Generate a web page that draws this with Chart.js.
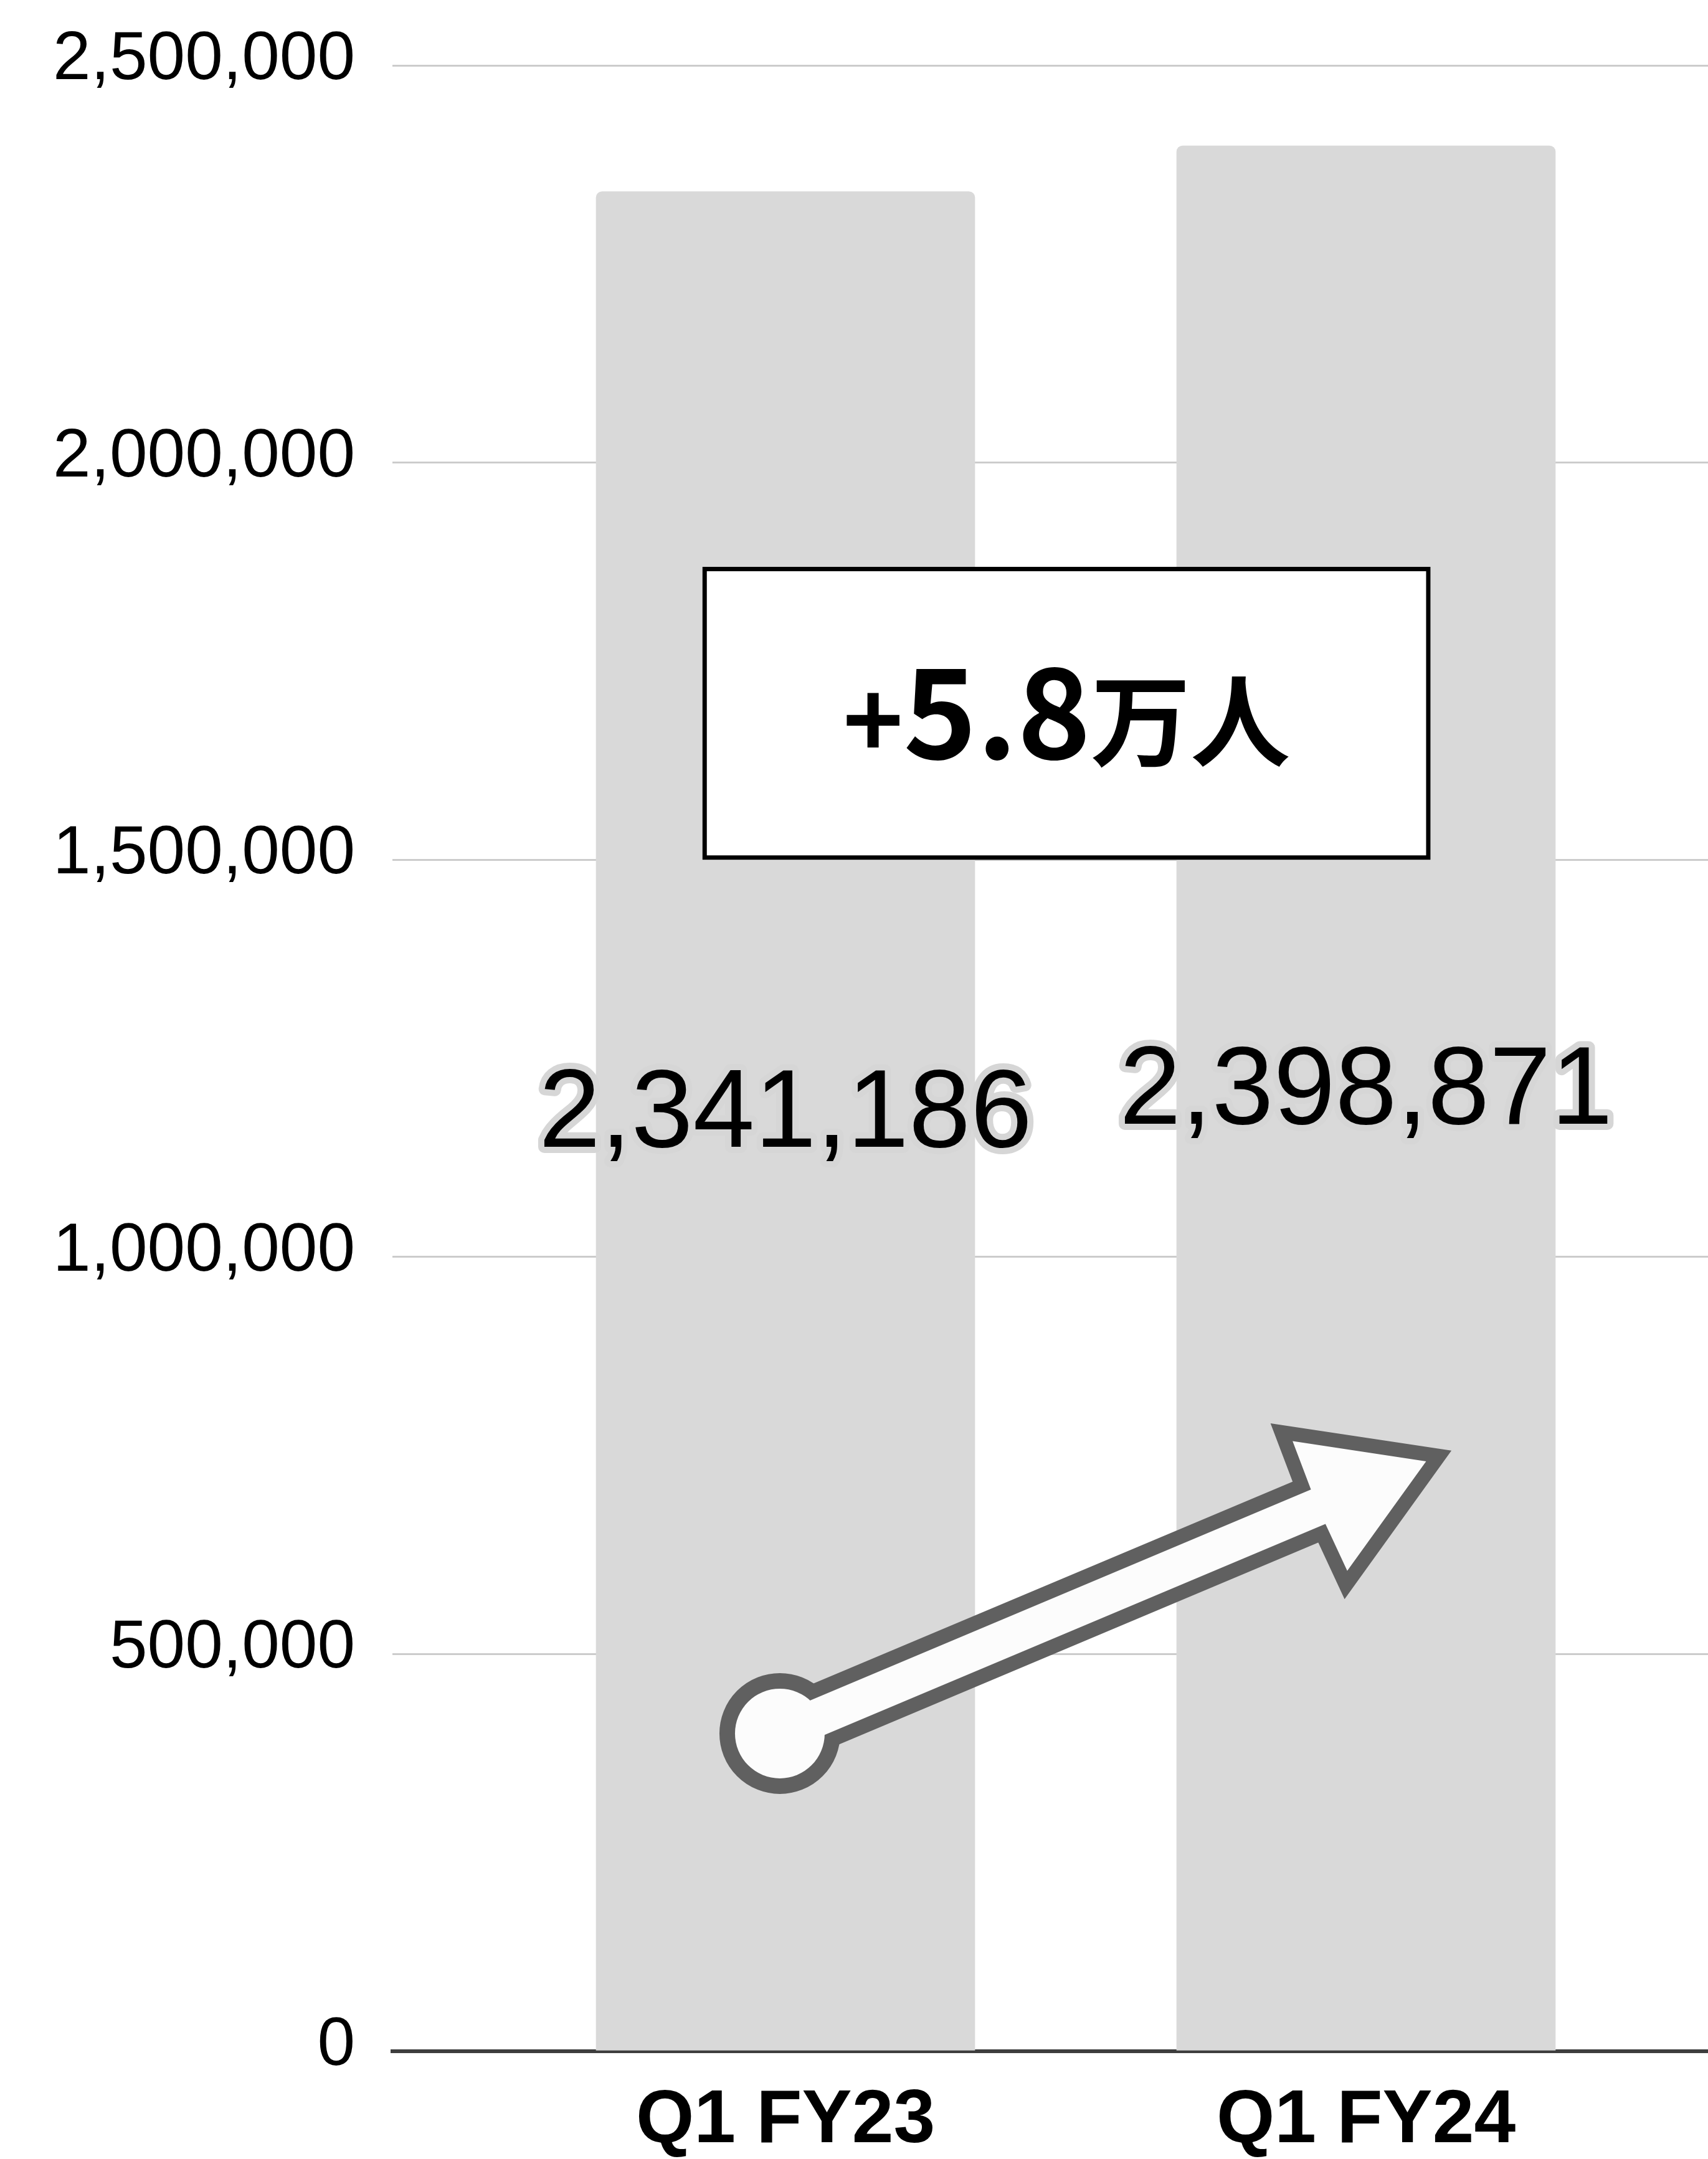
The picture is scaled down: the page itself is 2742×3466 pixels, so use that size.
<!DOCTYPE html>
<html>
<head>
<meta charset="utf-8">
<script src="https://cdn.jsdelivr.net/npm/chart.js@4.4.1/dist/chart.umd.min.js"></script>
<style>
html,body{margin:0;padding:0;background:#ffffff;}
#wrap{position:relative;width:2742px;height:3466px;}
</style>
</head>
<body>
<div id="wrap"><canvas id="c"></canvas></div>
<script>
// ---- data ----
const categories = ["Q1 FY23", "Q1 FY24"];
const users = [2341186, 2398871];
const yTickValues = [0, 500000, 1000000, 1500000, 2000000, 2500000];
const yTickLabels = ["0", "500,000", "1,000,000", "1,500,000", "2,000,000", "2,500,000"];
const changeText = ["+", "5.8", "万人"];

// ---- annotation geometry (in scale units) ----
const BOX = {x0: -0.143, x1: 1.111, y0: 1500000, y1: 1868700};
const ARROW = {from: [-0.0097, 400000], to: [1.149, 756700]};

const annot = {
  id: 'annot',
  afterDraw(chart) {
    const ctx = chart.ctx, xs = chart.scales.x, ys = chart.scales.y;
    const meta = chart.getDatasetMeta(0);

    // value labels in the middle of the bars
    ctx.save();
    ctx.font = '178px "Liberation Sans", Arial, sans-serif';
    ctx.textAlign = 'center';
    ctx.textBaseline = 'middle';
    ctx.lineJoin = 'round';
    meta.data.forEach((bar, i) => {
      const txt = users[i].toLocaleString('en-US');
      const y = ys.getPixelForValue(users[i] / 2) - 8.5;
      ctx.strokeStyle = '#d6d6d6';
      ctx.lineWidth = 20;
      ctx.strokeText(txt, bar.x, y);
      ctx.fillStyle = '#000000';
      ctx.fillText(txt, bar.x, y);
    });
    ctx.restore();

    // box with change text
    ctx.save();
    const bl = xs.getPixelForValue(BOX.x0), br = xs.getPixelForValue(BOX.x1);
    const bt = ys.getPixelForValue(BOX.y1), bb = ys.getPixelForValue(BOX.y0);
    ctx.fillStyle = '#ffffff';
    ctx.fillRect(bl, bt, br - bl, bb - bt);
    ctx.lineWidth = 7;
    ctx.strokeStyle = '#000000';
    ctx.strokeRect(bl + 3.5, bt + 3.5, br - bl - 7, bb - bt - 7);
    const fonts = ['bold 165px "Noto Sans CJK JP", sans-serif',
                   'bold 200px "Noto Sans CJK JP", sans-serif',
                   'bold 160px "Noto Sans CJK JP", sans-serif'];
    let widths = changeText.map((t, i) => { ctx.font = fonts[i]; return ctx.measureText(t).width; });
    const total = widths.reduce((a, b) => a + b, 0);
    let x = (bl + br) / 2 - total / 2;
    const base = (bt + bb) / 2 + 73;
    ctx.fillStyle = '#000000';
    ctx.textAlign = 'left';
    ctx.textBaseline = 'alphabetic';
    changeText.forEach((t, i) => {
      ctx.font = fonts[i];
      ctx.fillText(t, x, base);
      x += widths[i];
    });
    ctx.restore();

    // arrow
    ctx.save();
    const c = {x: xs.getPixelForValue(ARROW.from[0]), y: ys.getPixelForValue(ARROW.from[1])};
    const t = {x: xs.getPixelForValue(ARROW.to[0]), y: ys.getPixelForValue(ARROW.to[1])};
    const L = Math.hypot(t.x - c.x, t.y - c.y);
    const ux = (t.x - c.x) / L, uy = (t.y - c.y) / L;
    const nx = -uy, ny = ux;
    const P = (s, q) => [c.x + ux * s + nx * q, c.y + uy * s + ny * q];
    const pts = [P(0, -30), P(L - 234, -30), P(L - 231, -113), P(L - 46, 0),
                 P(L - 231, 113), P(L - 234, 30), P(0, 30)];
    const R = 72;
    ctx.lineJoin = 'miter';
    ctx.strokeStyle = '#606060';
    ctx.lineWidth = 46;
    ctx.beginPath();
    pts.forEach((p, i) => i ? ctx.lineTo(p[0], p[1]) : ctx.moveTo(p[0], p[1]));
    ctx.closePath();
    ctx.stroke();
    ctx.lineWidth = 50;
    ctx.beginPath();
    ctx.arc(c.x, c.y, R, 0, Math.PI * 2);
    ctx.stroke();
    ctx.fillStyle = '#fcfcfc';
    ctx.beginPath();
    pts.forEach((p, i) => i ? ctx.lineTo(p[0], p[1]) : ctx.moveTo(p[0], p[1]));
    ctx.closePath();
    ctx.fill();
    ctx.beginPath();
    ctx.arc(c.x, c.y, R, 0, Math.PI * 2);
    ctx.fill();
    ctx.restore();
  }
};

const CANVAS_H = 3466, AXIS_Y = 3293, AXIS_LEFT = 630, AREA_TOP = 105;

const chart = new Chart(document.getElementById('c'), {
  type: 'bar',
  data: {
    datasets: [{
      data: users.map((v, i) => ({x: i, y: v})),
      backgroundColor: '#d9d9d9',
      borderWidth: 0,
      barThickness: 608,
      borderRadius: {topLeft: 10, topRight: 10, bottomLeft: 0, bottomRight: 0},
      borderSkipped: false
    }]
  },
  options: {
    responsive: true,
    maintainAspectRatio: false,
    animation: false,
    devicePixelRatio: 1,
    layout: {padding: {top: AREA_TOP, left: 0, right: 0, bottom: 0}},
    plugins: {legend: {display: false}, tooltip: {enabled: false}, title: {display: false}},
    scales: {
      x: {
        type: 'linear',
        offset: false,
        min: -631 / 932,
        max: 1481 / 932,
        z: 1,
        grid: {display: false, drawTicks: false},
        border: {display: true, color: '#3d3d3d', width: 6},
        afterBuildTicks: (s) => { s.ticks = categories.map((_, i) => ({value: i})); },
        afterFit: (s) => { s.height = CANVAS_H - AXIS_Y; },
        ticks: {
          autoSkip: false,
          maxRotation: 0,
          padding: 41,
          color: '#000000',
          font: {family: '"Liberation Sans", Arial, sans-serif', size: 120, weight: 'bold'},
          callback: (v) => categories[v] !== undefined ? categories[v] : ''
        }
      },
      y: {
        min: 0,
        max: 2500000,
        grid: {
          drawTicks: true,
          tickLength: 60,
          tickColor: 'rgba(0,0,0,0)',
          lineWidth: 3,
          color: (ctx) => ctx.tick && ctx.tick.value === 0 ? 'rgba(0,0,0,0)' : '#cccccc'
        },
        border: {display: false},
        afterBuildTicks: (s) => { s.ticks = yTickValues.map(v => ({value: v})); },
        afterFit: (s) => { s.width = AXIS_LEFT; },
        ticks: {
          padding: 0,
          labelOffset: -8,
          color: '#000000',
          font: {family: '"Liberation Sans", Arial, sans-serif', size: 109},
          callback: (v) => { const i = yTickValues.indexOf(v); return i >= 0 ? yTickLabels[i] : ''; }
        }
      }
    }
  },
  plugins: [annot]
});

// make the plot area top land exactly where the reference has it
for (let k = 0; k < 3; k++) {
  const d = chart.chartArea.top - AREA_TOP;
  if (Math.abs(d) < 0.5) break;
  chart.options.layout.padding.top -= d;
  chart.update();
}
</script>
</body>
</html>
